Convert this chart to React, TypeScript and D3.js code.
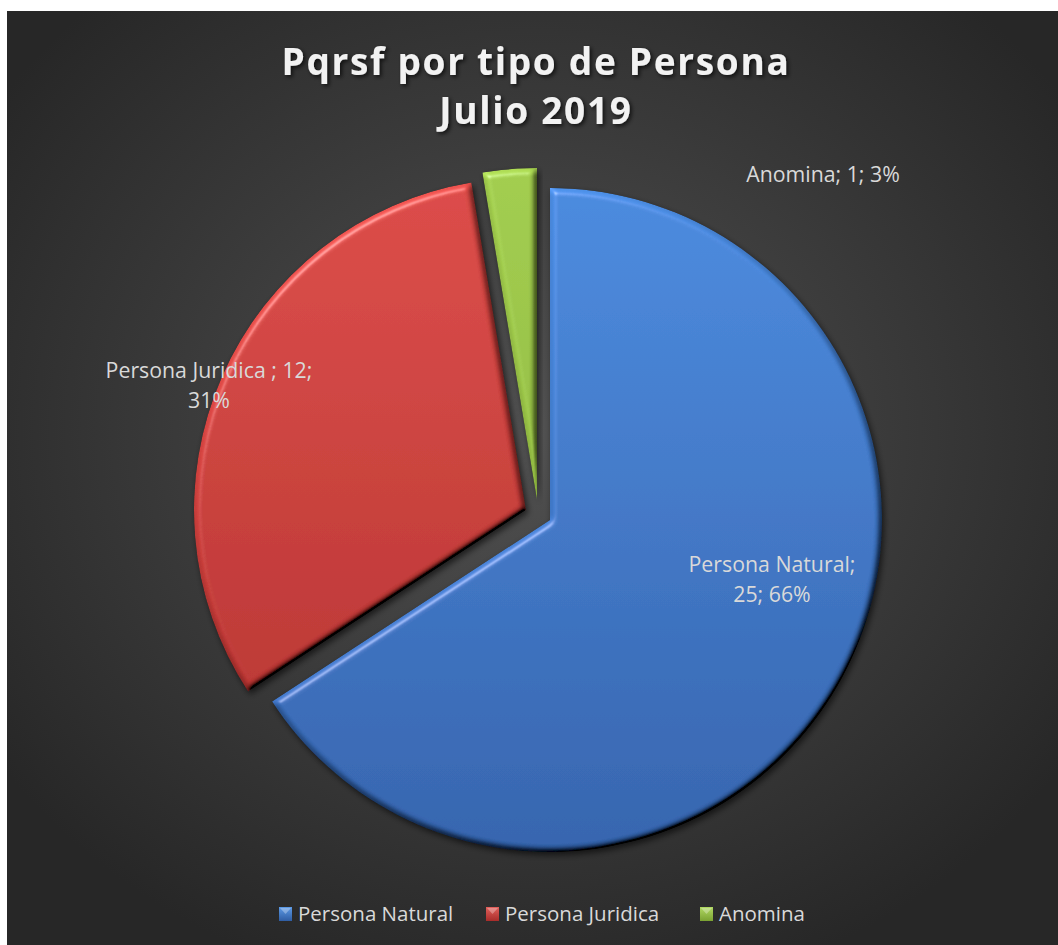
import React from "react";
import * as d3 from "d3";

const categories = ["Persona Natural", "Persona Juridica", "Anomina"];
const values = [25, 12, 1];
const percentLabels = ["66%", "31%", "3%"];
const labelLines = [
  ["Persona Natural;", "25; 66%"],
  ["Persona Juridica ; 12;", "31%"],
  ["Anomina; 1; 3%"],
];
const titleLines = ["Pqrsf por tipo de Persona", "Julio 2019"];

// styles
const W = 1058;
const H = 945;
const colorsTop = ["#4a8ade", "#dc4b47", "#a2cd4e"];
const colorsBottom = ["#3464ae", "#b3302e", "#86ad38"];
const explodeOffsets: [number, number][] = [
  [0, 0],
  [-24, -10],
  [-13, -20],
];
const labelPos: [number, number][] = [
  [772, 572],
  [209, 378],
  [823, 182],
];
const legendX = [279, 486, 700];

export default function App() {
  const cx = 550;
  const cy = 520;
  const r = 332;
  const pie = d3.pie<number>().sort(null).startAngle(0).endAngle(2 * Math.PI);
  const arcs = pie(values);
  const arc = d3.arc<d3.PieArcDatum<number>>().innerRadius(0).outerRadius(r);
  const font = "'Open Sans', 'DejaVu Sans', sans-serif";
  return (
    <svg
      width={W}
      height={H}
      style={{ position: "absolute", left: 0, top: 0, display: "block" }}
    >
      <defs>
        <radialGradient id="bg" cx="50%" cy="45%" r="62%">
          <stop offset="0%" stopColor="#515151" />
          <stop offset="100%" stopColor="#272727" />
        </radialGradient>
        {arcs.map((a, i) => (
          <linearGradient
            key={i}
            id={`g${i}`}
            gradientUnits="userSpaceOnUse"
            x1={0}
            y1={-r}
            x2={0}
            y2={r}
          >
            <stop offset="0%" stopColor={colorsTop[i]} />
            <stop offset="100%" stopColor={colorsBottom[i]} />
          </linearGradient>
        ))}
        <linearGradient id="lg0" x1="0" y1="0" x2="0" y2="1">
          <stop offset="0%" stopColor="#5c9ae6" />
          <stop offset="100%" stopColor="#2f5da3" />
        </linearGradient>
        <linearGradient id="lg1" x1="0" y1="0" x2="0" y2="1">
          <stop offset="0%" stopColor="#e2605b" />
          <stop offset="100%" stopColor="#a82c2a" />
        </linearGradient>
        <linearGradient id="lg2" x1="0" y1="0" x2="0" y2="1">
          <stop offset="0%" stopColor="#b0d862" />
          <stop offset="100%" stopColor="#7ba232" />
        </linearGradient>
        <filter id="bevel" x="-10%" y="-10%" width="120%" height="120%">
          <feGaussianBlur in="SourceAlpha" stdDeviation="3" result="blur" />
          <feDiffuseLighting
            in="blur"
            surfaceScale="6"
            diffuseConstant="1"
            lightingColor="#ffffff"
            result="light"
          >
            <feDistantLight azimuth="235" elevation="50" />
          </feDiffuseLighting>
          <feComposite
            in="SourceGraphic"
            in2="light"
            operator="arithmetic"
            k1="1.305"
            k2="0"
            k3="0"
            k4="0"
            result="lit"
          />
          <feSpecularLighting
            in="blur"
            surfaceScale="6"
            specularConstant="0.5"
            specularExponent="30"
            lightingColor="#ffffff"
            result="spec"
          >
            <feDistantLight azimuth="235" elevation="35" />
          </feSpecularLighting>
          <feComposite in="spec" in2="SourceAlpha" operator="in" result="specIn" />
          <feComposite
            in="lit"
            in2="specIn"
            operator="arithmetic"
            k1="0"
            k2="1"
            k3="0.5"
            k4="0"
            result="lit2"
          />
          <feComposite in="lit2" in2="SourceAlpha" operator="in" result="litIn" />
          <feGaussianBlur in="SourceAlpha" stdDeviation="3" result="sblur" />
          <feOffset in="sblur" dx="2" dy="3" result="soff" />
          <feFlood floodColor="#000000" floodOpacity="0.6" />
          <feComposite in2="soff" operator="in" result="shadow" />
          <feMerge>
            <feMergeNode in="shadow" />
            <feMergeNode in="litIn" />
          </feMerge>
        </filter>
        <filter id="tshadow" x="-10%" y="-30%" width="120%" height="160%">
          <feDropShadow dx="2" dy="2" stdDeviation="2" floodColor="#000" floodOpacity="0.7" />
        </filter>
      </defs>
      <rect x={7} y={11} width={W - 7} height={H - 11} fill="url(#bg)" />
      <g fontFamily={font} fontWeight="bold" fill="#f2f2f2" textAnchor="middle" filter="url(#tshadow)">
        {titleLines.map((t, i) => (
          <text key={i} x={536} y={75 + i * 49} fontSize={37} letterSpacing={1.7}>
            {t}
          </text>
        ))}
      </g>
      <g transform={`translate(${cx},${cy})`}>
        {arcs.map((a, i) => (
          <path
            key={i}
            d={arc(a) || ""}
            transform={`translate(${explodeOffsets[i][0]},${explodeOffsets[i][1]})`}
            fill={`url(#g${i})`}
            filter="url(#bevel)"
          />
        ))}
      </g>
      <g fontFamily={font} fontSize={21.3} fill="#d9d9d9" textAnchor="middle">
        {labelLines.map((lines, i) => (
          <text key={i} x={labelPos[i][0]} y={labelPos[i][1]}>
            {lines.map((l, j) => (
              <tspan key={j} x={labelPos[i][0]} dy={j === 0 ? 0 : 30}>
                {l}
              </tspan>
            ))}
          </text>
        ))}
      </g>
      <g fontFamily={font} fontSize={20.5} fill="#d9d9d9">
        {categories.map((c, i) => (
          <g key={i}>
            <rect x={legendX[i]} y={907} width={13} height={14} fill={`url(#lg${i})`} />
            <path
              d={`M${legendX[i] + 1},${908} L${legendX[i] + 12},${908} L${legendX[i] + 6.5},${914} Z`}
              fill="#ffffff"
              opacity={0.3}
            />
            <text x={legendX[i] + 19} y={921}>
              {c}
            </text>
          </g>
        ))}
      </g>
    </svg>
  );
}
